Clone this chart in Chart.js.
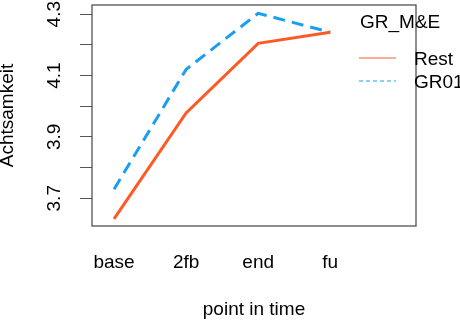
<!DOCTYPE html>
<html>
<head>
<meta charset="utf-8">
<script src="https://cdn.jsdelivr.net/npm/chart.js@4.4.0/dist/chart.umd.min.js"></script>
<style>
  body { margin: 0; background: #fff; }
  #wrap { width: 460px; height: 330px; }
</style>
</head>
<body>
<div id="wrap"><canvas id="myCanvas"></canvas></div>
<script>
// data
const points = ["base", "2fb", "end", "fu"];
const restValues = [3.633, 3.978, 4.205, 4.241];
const gr01Values = [3.729, 4.120, 4.303, 4.241];
const yTicks = [3.7, 3.8, 3.9, 4.0, 4.1, 4.2, 4.3];
const yLabels = ["3.7", "3.9", "4.1", "4.3"];
const legendTitle = "GR_M&E";
const seriesNames = ["Rest", "GR01"];

const orange = "#ff5a26";
const blue = "#1a9ff0";
const font = "Liberation Sans, Arial, sans-serif";

function toXY(values) {
    return values.map((v, i) => ({ x: i + 1, y: v }));
}

// box round the plot, rotated y labels and the legend (R style)
const rStyle = {
    id: "rStyle",
    afterDraw(chart) {
        const ctx = chart.ctx;
        const a = chart.chartArea;
        ctx.save();
        ctx.strokeStyle = "#444";
        ctx.lineWidth = 1.2;
        ctx.strokeRect(a.left, a.top, a.right - a.left, a.bottom - a.top);

        // y labels, parallel to the axis
        const y = chart.scales.y;
        ctx.fillStyle = "#000";
        ctx.font = "19px " + font;
        ctx.textAlign = "center";
        ctx.textBaseline = "middle";
        yLabels.forEach((lab) => {
            const py = y.getPixelForValue(parseFloat(lab));
            ctx.save();
            ctx.translate(55, py);
            ctx.rotate(-Math.PI / 2);
            ctx.fillText(lab, 0, 0);
            ctx.restore();
        });

        // legend
        ctx.textAlign = "left";
        ctx.fillText(legendTitle, 360, 23);
        const colors = [orange, blue];
        seriesNames.forEach((name, i) => {
            const ly = 58 + i * 23;
            ctx.strokeStyle = colors[i];
            ctx.lineWidth = 1;
            ctx.setLineDash(i == 1 ? [4, 3] : []);
            ctx.beginPath();
            ctx.moveTo(359, ly);
            ctx.lineTo(396, ly);
            ctx.stroke();
            ctx.fillStyle = "#000";
            ctx.fillText(name, 414, ly + 2);
        });
        ctx.restore();
    },
};

const ctx = document.getElementById("myCanvas").getContext("2d");

new Chart(ctx, {
    type: "line",
    data: {
        datasets: [
            {
                label: seriesNames[0],
                data: toXY(restValues),
                borderColor: orange,
                borderWidth: 3,
                pointRadius: 0,
                tension: 0,
            },
            {
                label: seriesNames[1],
                data: toXY(gr01Values),
                borderColor: blue,
                borderWidth: 3,
                borderDash: [12, 7],
                pointRadius: 0,
                tension: 0,
            },
        ],
    },
    options: {
        responsive: true,
        maintainAspectRatio: false,
        animation: false,
        layout: { padding: { left: 0, top: 5, right: 44, bottom: 0 } },
        plugins: {
            legend: { display: false },
            tooltip: { enabled: false },
        },
        scales: {
            x: {
                type: "linear",
                min: 0.694,
                max: 5.19,
                afterBuildTicks: (s) => { s.ticks = points.map((_, i) => ({ value: i + 1 })); },
                afterFit: (s) => { s.height = 104; },
                border: { display: false },
                grid: { display: true, drawOnChartArea: false, drawTicks: false, color: "rgba(0,0,0,0)" },
                ticks: {
                    color: "#000",
                    font: { family: font, size: 19 },
                    padding: 25,
                    maxRotation: 0,
                    callback: (v) => points[v - 1] || "",
                },
                title: {
                    display: true,
                    text: "point in time",
                    color: "#000",
                    font: { family: font, size: 19 },
                    padding: { top: 0, bottom: 9 },
                },
            },
            y: {
                type: "linear",
                min: 3.6095,
                max: 4.33,
                afterBuildTicks: (s) => { s.ticks = yTicks.map((v) => ({ value: v })); },
                afterFit: (s) => { s.width = 92; },
                border: { display: false },
                grid: { drawOnChartArea: false, drawTicks: true, tickLength: 12, color: "#555", lineWidth: 1 },
                ticks: { display: false },
                title: {
                    display: true,
                    text: "Achtsamkeit",
                    color: "#000",
                    font: { family: font, size: 19, lineHeight: 0.85 },
                    padding: 0,
                },
            },
        },
    },
    plugins: [rStyle],
});
</script>
</body>
</html>
